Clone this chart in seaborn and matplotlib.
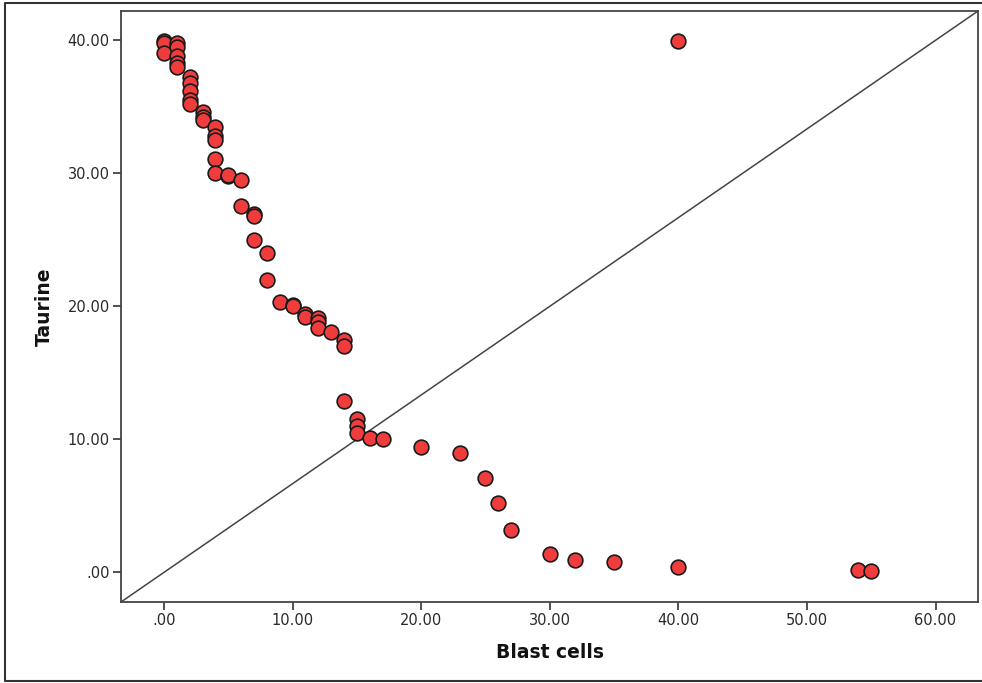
import matplotlib
matplotlib.use("Agg")
import matplotlib.pyplot as plt
import seaborn as sns
import pandas as pd
from matplotlib.lines import Line2D

blast_cells = [0, 0, 0,
               1, 1, 1, 1, 1,
               2, 2, 2, 2, 2,
               3, 3, 3,
               4, 4, 4, 4, 4,
               5, 5,
               6, 6,
               7, 7, 7,
               8, 8,
               9,
               10, 10,
               11, 11,
               12, 12, 12,
               13,
               14, 14, 14,
               15, 15, 15,
               16, 17, 20, 23, 25, 26, 27, 30, 32, 35, 40, 54, 55, 40]
taurine = [39.9, 39.8, 39.0,
           39.8, 39.5, 38.8, 38.3, 38.0,
           37.2, 36.8, 36.2, 35.5, 35.2,
           34.6, 34.2, 34.0,
           33.5, 32.8, 32.5, 31.1, 30.0,
           29.8, 29.9,
           29.5, 27.5,
           26.9, 26.8, 25.0,
           24.0, 22.0,
           20.3,
           20.1, 20.0,
           19.4, 19.2,
           19.1, 18.8, 18.4,
           18.1,
           17.5, 17.0, 12.9,
           11.5, 11.0, 10.5,
           10.1, 10.0, 9.4, 9.0, 7.1, 5.2, 3.2, 1.4, 0.9, 0.8, 0.4, 0.2, 0.1, 39.9]

x_ticks = [0, 10, 20, 30, 40, 50, 60]
x_tick_labels = [".00", "10.00", "20.00", "30.00", "40.00", "50.00", "60.00"]
y_ticks = [0, 10, 20, 30, 40]
y_tick_labels = [".00", "10.00", "20.00", "30.00", "40.00"]

df = pd.DataFrame({"Blast cells": blast_cells, "Taurine": taurine})

sns.set_style("white")
plt.rcParams['font.family'] = ['DejaVu Sans']

W, H = 982, 683
fig = plt.figure(figsize=(W / 100, H / 100), dpi=100)
ax = fig.add_axes([121 / W, (H - 602) / H, (978 - 121) / W, (602 - 11) / H])

sns.scatterplot(data=df, x="Blast cells", y="Taurine", ax=ax,
                s=112, color="#F03C3C", edgecolor="#1a1a1a", linewidth=1.2,
                zorder=3)

ax.set_xlim(-3.34, 63.3)
ax.set_ylim(-2.22, 42.19)

# corner-to-corner reference line
ax.plot([0, 1], [0, 1], transform=ax.transAxes, color="#444444", lw=1.1, zorder=2)

ax.set_xticks(x_ticks)
ax.set_xticklabels(x_tick_labels)
ax.set_yticks(y_ticks)
ax.set_yticklabels(y_tick_labels)
ax.tick_params(axis="both", direction="out", length=6, width=1.2, color="#333333",
               labelsize=10.5, labelcolor="#2a2a2a", pad=2,
               bottom=True, left=True)

for sp in ax.spines.values():
    sp.set_visible(True)
    sp.set_color("#444444")
    sp.set_linewidth(1.3)

ax.set_xlabel("Blast cells", fontsize=13.5, fontweight="bold", color="#111111", labelpad=11)
ax.set_ylabel("Taurine", fontsize=13.5, fontweight="bold", color="#111111", labelpad=10)

# outer frame (top, left, bottom only; open to the right edge)
fx0, fx1 = 5 / W, 1.0
fy_top, fy_bot = (H - 3) / H, (H - 681) / H
frame = Line2D([fx1, fx0, fx0, fx1], [fy_top, fy_top, fy_bot, fy_bot],
               transform=fig.transFigure, color="#333333", linewidth=1.5)
fig.lines.append(frame)

fig.savefig("out.png", dpi=100)
